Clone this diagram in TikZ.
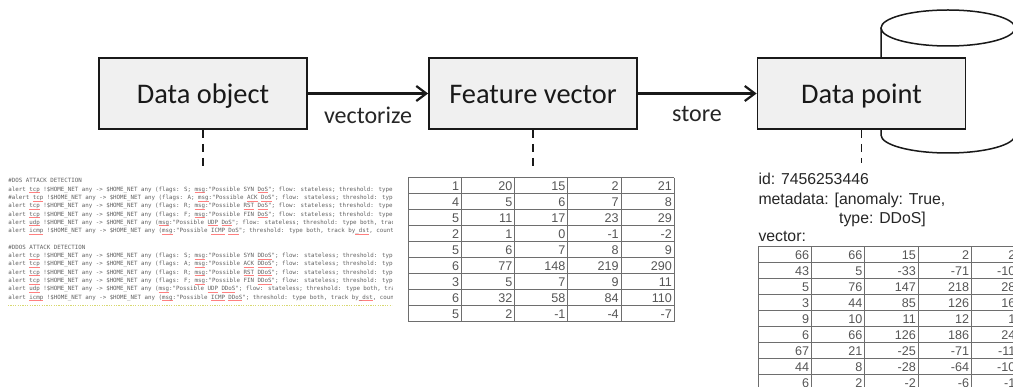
\documentclass[tikz,border=0pt]{standalone}
\usepackage{fontspec}
\usetikzlibrary{arrows.meta}
\newfontfamily\carl{Carlito}
\newfontfamily\libs{Liberation Sans}
\newfontfamily\dmono{DejaVu Sans Mono}[Ligatures=TeXOff]
\definecolor{boxfill}{HTML}{F0F0F0}
\definecolor{logcol}{HTML}{606060}
\definecolor{cellcol}{HTML}{555555}
\definecolor{gridcol}{HTML}{6E6E6E}
\definecolor{dotcol}{HTML}{D8D870}
\newcommand\sq[1]{\setbox0\hbox{#1}\rlap{\color{red!50}\rule[-0.45ex]{\wd0}{0.15ex}}\box0\relax}
\begin{document}
\begin{tikzpicture}[x=1pt,y=-1pt,
  procbox/.style={draw=black!90, line width=1.8pt, fill=boxfill, minimum width=208pt, minimum height=71pt, inner sep=0pt, text height=20pt, text depth=0pt, font=\carl\fontsize{28.4}{30}\selectfont, text=black!90},
  flow/.style={line width=2.2pt, draw=black!90, -{Straight Barb[length=10pt,width=15pt]}},
  flowlabel/.style={anchor=base, inner sep=0pt, font=\carl\fontsize{24}{26}\selectfont, text=black!85},
  link/.style={line width=1.8pt, draw=black!90, dash pattern=on 8pt off 6pt},
  logtxt/.style={anchor=base west, inner sep=0pt, font=\dmono\fontsize{5.8}{8.3}\selectfont, text=logcol},
  cell/.style={anchor=base east, inner sep=0pt, font=\libs\fontsize{12.6}{14}\selectfont, text=cellcol},
  gridl/.style={draw=gridcol, line width=0.9pt},
  meta/.style={anchor=base west, inner sep=0pt, font=\libs\fontsize{15.8}{19}\selectfont, text=black!85},
  cyl/.style={line width=1.5pt, draw=black!90}
]
\useasboundingbox (0,0) rectangle (1013,387);
\clip (0,0) rectangle (1013,387);
\fill[white] (0,0) rectangle (1013,387);

% database cylinder (behind the Data point box)
\draw[cyl] (948,28) ellipse [x radius=67pt, y radius=18pt];
\draw[cyl] (881,28) -- (881,135) arc[start angle=180, end angle=360, x radius=67pt, y radius=18pt] -- (1015,28);

% process boxes
\node[procbox] (dobj) at (203,93.5) {Data object};
\node[procbox] (fvec) at (533,93.5) {Feature vector};
\node[procbox] (dpt) at (861.5,93.5) {Data point};

% flows
\draw[flow] (dobj) -- (fvec);
\draw[flow] (fvec) -- (dpt);
\node[flowlabel] (lvec) at (368,123.3) {vectorize};
\node[flowlabel] (lsto) at (697,121.7) {store};

% dashed links
\coordinate (dobjd) at (203,167);
\coordinate (fvecd) at (533,167);
\coordinate (dptd) at (861.5,163);
\draw[link] (dobj.south) -- (dobjd);
\draw[link] (fvec.south) -- (fvecd);
\draw[link] (dpt.south) -- (dptd);

% rule file excerpt
\begin{scope}
\clip (0,170) rectangle (392,312);
\node[logtxt] (l1) at (8.3,183) {\#DOS ATTACK DETECTION};
\node[logtxt] (l2) at (8.3,191.3) {alert \sq{tcp} !\$HOME\_NET any -> \$HOME\_NET any (flags: S; \sq{msg}:"Possible SYN \sq{DoS}"; flow: stateless; threshold: type};
\node[logtxt] (l3) at (8.3,199.6) {\#alert \sq{tcp} !\$HOME\_NET any -> \$HOME\_NET any (flags: A; \sq{msg}:"Possible \sq{ACK} \sq{DoS}"; flow: stateless; threshold: type};
\node[logtxt] (l4) at (8.3,207.9) {alert \sq{tcp} !\$HOME\_NET any -> \$HOME\_NET any (flags: R; \sq{msg}:"Possible \sq{RST} \sq{DoS}"; flow: stateless; threshold: type};
\node[logtxt] (l5) at (8.3,216.2) {alert \sq{tcp} !\$HOME\_NET any -> \$HOME\_NET any (flags: F; \sq{msg}:"Possible FIN \sq{DoS}"; flow: stateless; threshold: type};
\node[logtxt] (l6) at (8.3,224.5) {alert \sq{udp} !\$HOME\_NET any -> \$HOME\_NET any (\sq{msg}:"Possible \sq{UDP} \sq{DoS}"; flow: stateless; threshold: type both, track};
\node[logtxt] (l7) at (8.3,232.8) {alert \sq{icmp} !\$HOME\_NET any -> \$HOME\_NET any (\sq{msg}:"Possible \sq{ICMP} \sq{DoS}"; threshold: type both, track by\sq{\_dst}, count};
\node[logtxt] (l8) at (8.3,249.4) {\#DDOS ATTACK DETECTION};
\node[logtxt] (l9) at (8.3,257.7) {alert \sq{tcp} !\$HOME\_NET any -> \$HOME\_NET any (flags: S; \sq{msg}:"Possible SYN \sq{DDoS}"; flow: stateless; threshold: type};
\node[logtxt] (l10) at (8.3,266) {alert \sq{tcp} !\$HOME\_NET any -> \$HOME\_NET any (flags: A; \sq{msg}:"Possible \sq{ACK} \sq{DDoS}"; flow: stateless; threshold: type};
\node[logtxt] (l11) at (8.3,274.3) {alert \sq{tcp} !\$HOME\_NET any -> \$HOME\_NET any (flags: R; \sq{msg}:"Possible \sq{RST} \sq{DDoS}"; flow: stateless; threshold: type};
\node[logtxt] (l12) at (8.3,282.6) {alert \sq{tcp} !\$HOME\_NET any -> \$HOME\_NET any (flags: F; \sq{msg}:"Possible FIN \sq{DDoS}"; flow: stateless; threshold: type};
\node[logtxt] (l13) at (8.3,290.9) {alert \sq{udp} !\$HOME\_NET any -> \$HOME\_NET any (\sq{msg}:"Possible \sq{UDP} \sq{DDoS}"; flow: stateless; threshold: type both, track};
\node[logtxt] (l14) at (8.3,299.2) {alert \sq{icmp} !\$HOME\_NET any -> \$HOME\_NET any (\sq{msg}:"Possible \sq{ICMP} \sq{DDoS}"; threshold: type both, track by\sq{\_dst}, count};
\draw[dotcol, line width=0.9pt, dash pattern=on 1.2pt off 1.2pt] (8,305.5) -- (392,305.5);
\end{scope}

% feature vector table
\foreach \i in {0,...,9} \draw[gridl] (408.3,{177.7+16*\i}) -- (674.3,{177.7+16*\i});
\foreach \j in {0,...,5} \draw[gridl] ({408.3+53.2*\j},177.7) -- ({408.3+53.2*\j},321.7);
\foreach \row [count=\r] in {{1,20,15,2,21},{4,5,6,7,8},{5,11,17,23,29},{2,1,0,-1,-2},{5,6,7,8,9},{6,77,148,219,290},{3,5,7,9,11},{6,32,58,84,110},{5,2,-1,-4,-7}}
  \foreach \v [count=\c] in \row
    \node[cell] (fa-\r-\c) at ({408.3+53.2*\c-2.2},{174.7+16*\r}) {\v};

% data point text
\node[meta] (mid) at (758.3,185) {id: 7456253446};
\node[meta] (mmeta) at (758.3,204.3) {metadata: [anomaly: True,};
\node[meta] (mtype) at (839,223.3) {type: DDoS]};
\node[meta] (mvec) at (758.3,241.7) {vector:};

% data point table
\foreach \i in {0,...,10} \draw[gridl] (758.3,{246.3+16*\i}) -- (1024.8,{246.3+16*\i});
\foreach \j in {0,...,5} \draw[gridl] ({758.3+53.3*\j},246.3) -- ({758.3+53.3*\j},406.3);
\foreach \row [count=\r] in {{66,66,15,2,21},{43,5,-33,-71,-109},{5,76,147,218,289},{3,44,85,126,167},{9,10,11,12,13},{6,66,126,186,246},{67,21,-25,-71,-117},{44,8,-28,-64,-100},{6,2,-2,-6,-10}}
  \foreach \v [count=\c] in \row
    \node[cell] (fb-\r-\c) at ({758.3+53.3*\c-2.2},{243.3+16*\r}) {\v};
\end{tikzpicture}
\end{document}
